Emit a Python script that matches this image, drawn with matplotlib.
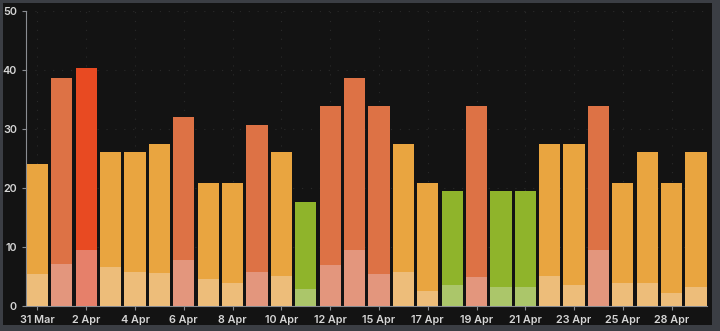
import matplotlib.pyplot as plt
from matplotlib.patches import Rectangle

days = ["31 Mar", "1 Apr", "2 Apr", "3 Apr", "4 Apr", "5 Apr", "6 Apr",
        "7 Apr", "8 Apr", "9 Apr", "10 Apr", "11 Apr", "12 Apr", "13 Apr",
        "15 Apr", "16 Apr", "17 Apr", "18 Apr", "19 Apr", "20 Apr", "21 Apr",
        "22 Apr", "23 Apr", "24 Apr", "25 Apr", "26 Apr", "28 Apr", "29 Apr"]
totals = [24.1, 38.6, 40.4, 26.0, 26.0, 27.4, 32.1, 20.9, 20.9, 30.6,
          26.0, 17.6, 33.9, 38.6, 33.9, 27.4, 20.9, 19.4, 33.9, 19.4,
          19.4, 27.4, 27.4, 33.9, 20.9, 26.0, 20.9, 26.0]
base = [5.3, 7.1, 9.4, 6.5, 5.7, 5.6, 7.8, 4.6, 3.9, 5.7,
        5.1, 2.8, 6.9, 9.4, 5.3, 5.7, 2.5, 3.5, 4.9, 3.2,
        3.2, 5.0, 3.5, 9.4, 3.9, 3.9, 2.1, 3.2]
# load level per day: g = green, o = orange, d = dark orange, r = red
level = ["o", "d", "r", "o", "o", "o", "d", "o", "o", "d",
         "o", "g", "d", "d", "d", "o", "o", "g", "d", "g",
         "g", "o", "o", "d", "o", "o", "o", "o"]

top_col = {"g": "#8fb42b", "o": "#e9a540", "d": "#dd7245", "r": "#e84a22"}
low_col = {"g": "#abc66a", "o": "#edbd7a", "d": "#e3967d", "r": "#e6806a"}

fig = plt.figure(figsize=(7.2, 3.31), dpi=100, facecolor="#3b3e44")
fig.patches.append(Rectangle((3 / 720, 6 / 331), 709 / 720, 322 / 331,
                             transform=fig.transFigure, facecolor="#131313",
                             edgecolor="none", zorder=-10))
ax = fig.add_axes([26 / 720, 25.3 / 331, 681 / 720, 294.7 / 331])
ax.set_facecolor("none")
ax.set_zorder(5)

x = range(len(days))
upper = [t - b for t, b in zip(totals, base)]
ax.bar(x, base, width=0.87, color=[low_col[c] for c in level], zorder=3)
ax.bar(x, upper, bottom=base, width=0.87,
       color=[top_col[c] for c in level], zorder=3)

ax.set_xlim(-0.47, 27.45)
ax.set_ylim(0, 50)
ax.set_yticks(range(0, 51, 10))
ax.set_xticks(list(x)[::2])
ax.set_xticklabels(days[::2])

ax.grid(True, color="#2a2a2a", linestyle=(0, (1, 7)), linewidth=0.8, zorder=0)
for side in ["top", "right"]:
    ax.spines[side].set_visible(False)
for side in ["left", "bottom"]:
    ax.spines[side].set_color("#8a8d92")
    ax.spines[side].set_linewidth(0.8)

ax.tick_params(colors="#8a8d92", length=3, width=0.8, pad=3.5,
               labelcolor="#d6d6d6", labelsize=7.8)
for lab in ax.get_xticklabels() + ax.get_yticklabels():
    lab.set_fontfamily("Inter")
    lab.set_fontweight("semibold")

fig.savefig("out.png", dpi=100, facecolor=fig.get_facecolor())
